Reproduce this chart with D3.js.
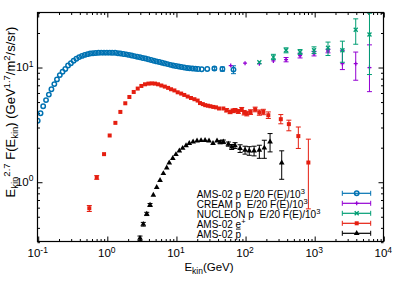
<!DOCTYPE html>
<html><head><meta charset="utf-8">
<script src="https://cdn.jsdelivr.net/npm/d3@7"></script>
<style>body{margin:0;background:#fff}svg{display:block}text{font-family:"Liberation Sans",Arial,Helvetica,sans-serif;fill:#000;white-space:pre}</style>
</head><body><svg id="c" width="407" height="285"></svg>
<script>
// ---- data ----
const amsP_E = [0.1,0.11,0.12,0.132,0.145,0.158,0.174,0.19,0.209,0.229,0.251,0.275,0.302,0.331,0.363,0.398,0.437,0.479,0.525,0.575,0.631,0.692,0.759,0.832,0.912,1.0,1.1,1.2,1.32,1.45,1.58,1.74,1.91,2.09,2.29,2.51,2.75,3.02,3.31,3.63,3.98,4.37,4.79,5.25,5.75,6.31,6.92,7.59,8.32,9.12,10.0,11.0,12.0,13.2,14.5,15.8,17.4,19.1,20.9,23.6,28.4,36,47,68];
const amsP_F = [3.4,3.95,4.55,5.15,5.75,6.4,7.1,7.8,8.5,9.1,9.6,10.3,10.8,11.35,11.8,12.2,12.5,12.75,12.95,13.1,13.2,13.25,13.3,13.35,13.35,13.35,13.35,13.3,13.3,13.2,13.1,13.0,12.9,12.75,12.6,12.45,12.3,12.15,12.0,11.85,11.7,11.5,11.35,11.2,11.05,10.9,10.75,10.6,10.45,10.3,10.2,10.1,10.0,9.9,9.8,9.75,9.7,9.65,9.6,9.55,9.6,9.7,9.6,9.5];
const amsP_Err = [0,0,0,0,0,0,0,0,0,0,0,0,0,0,0,0,0,0,0,0,0,0,0,0,0,0,0,0,0,0,0,0,0,0,0,0,0,0,0,0,0,0,0,0,0,0,0,0,0,0,0,0,0,0,0,0,0,0,0,0.15,0.2,0.3,0.4,0.75];

const cream_E = [62,100,161,257,392,625,995,1585,2560,3990,6310];
const cream_F = [10.3,10.8,10.7,11.3,11.6,12.6,13.1,13.8,10.7,10.7,9.9];
const cream_Lo = [10.1,10.5,10.4,11.0,11.1,12.0,12.5,13.3,9.5,7.67,6.1];
const cream_Hi = [10.5,11.1,11.0,11.6,12.1,13.2,13.7,14.3,14.0,13.5,15.6];

const nucleon_E = [161,257,392,625,995,1585,2560,3990,6310];
const nucleon_F = [11.0,12.2,14.0,13.5,14.0,14.7,14.0,21.1,19.2];
const nucleon_Lo = [10.7,11.6,13.3,12.9,13.1,12.6,11.0,15.8,8.6];
const nucleon_Hi = [11.3,12.9,14.7,14.2,15.0,16.5,16.8,26.3,29.5];

const pos_E = [0.558,0.715,0.912,1.10,1.33,1.57,1.85,2.12,2.45,2.80,3.16,3.57,4.0,4.46,4.98,5.5,6.15,6.9,7.7,8.5,9.5,10.6,11.9,13.2,14.8,16.5,18.5,20.6,22.3,24.5,26.5,29,31.5,34.7,38,42,48.5,54,60.7,67,71.6,80,89.5,97,106,120,140,161,184,217,329,430,590,824];
const pos_F = [0.587,1.09,1.74,2.53,3.26,4.06,4.83,5.48,6.06,6.49,6.84,7.07,7.17,7.2,7.17,7.07,6.9,6.75,6.58,6.4,6.25,6.02,5.87,5.71,5.53,5.37,5.24,5.1,4.85,4.75,4.65,4.6,4.55,4.49,4.45,4.35,4.35,4.2,4.06,4.15,4.2,4.1,4.27,4.0,3.93,4.05,4.27,4.01,4.06,3.80,3.51,3.18,2.50,1.47];
const pos_Lo = [0.55,1.05,1.7,2.48,3.2,4.0,4.77,5.42,6.0,6.43,6.78,7.0,7.1,7.13,7.1,7.0,6.83,6.68,6.5,6.32,6.17,5.93,5.78,5.62,5.44,5.28,5.14,5.0,4.75,4.65,4.55,4.5,4.44,4.38,4.33,4.22,4.22,4.06,3.92,4.0,4.05,3.94,4.1,3.82,3.75,3.86,4.07,3.8,3.84,3.56,3.2,2.78,1.95,0.58];
const pos_Hi = [0.62,1.13,1.78,2.58,3.32,4.12,4.89,5.54,6.12,6.55,6.9,7.14,7.24,7.27,7.24,7.14,6.97,6.82,6.66,6.48,6.33,6.11,5.96,5.8,5.62,5.46,5.34,5.2,4.95,4.85,4.75,4.7,4.66,4.6,4.57,4.48,4.48,4.34,4.2,4.3,4.35,4.26,4.44,4.18,4.11,4.24,4.47,4.22,4.28,4.06,3.85,3.44,3.0,2.35];

const pbar_E = [3.02,3.37,3.78,4.22,4.71,5.27,5.89,6.58,7.36,8.0,9.0,10.0,11.2,12.5,14.0,15.6,17.7,20.2,23.1,26.4,30.1,34.4,39.3,43.7,48.5,57.3,64.2,71.6,84.7,100,115,135,161,190,230,339];
const pbar_F = [0.322,0.426,0.524,0.627,0.766,0.894,1.03,1.18,1.32,1.46,1.6,1.73,1.86,1.96,2.07,2.16,2.23,2.27,2.29,2.30,2.27,2.16,2.27,2.21,2.23,2.13,2.01,2.07,1.95,1.89,1.86,1.86,1.89,1.97,2.23,1.46];
const pbar_Lo = [0.308,0.41,0.507,0.608,0.745,0.87,1.0,1.15,1.29,1.43,1.56,1.69,1.82,1.92,2.03,2.12,2.19,2.23,2.25,2.26,2.22,2.11,2.21,2.14,2.15,2.04,1.91,1.95,1.8,1.74,1.7,1.68,1.6,1.6,1.82,1.05];
const pbar_Hi = [0.336,0.442,0.541,0.646,0.787,0.918,1.06,1.21,1.35,1.49,1.64,1.77,1.9,2.0,2.11,2.2,2.27,2.31,2.33,2.34,2.32,2.21,2.33,2.28,2.31,2.22,2.11,2.19,2.1,2.04,2.02,2.04,2.08,2.3,2.63,1.86];

const xMajor = [0.1,1,10,100,1000,10000];
const xExp = ["-1","0","1","2","3","4"];
const yMajor = [1,10];
const yExp = ["0","1"];

const legendLabels = ["AMS-02 p E/20 F(E)/10|3","CREAM p  E/20 F(E)/10|3","NUCLEON p  E/20 F(E)/10|3","AMS-02 e|+","AMS-02 p"];

// ---- colours ----
const cBlue="#0072b2", cPurple="#9400d3", cGreen="#009e73", cRed="#e51e10", cBlack="#000";

const svg = d3.select("#c");
const L=37.5,R=383.5,T=12.5,B=241.5;
const x = d3.scaleLog().domain([0.1,1e4]).range([37.7,383.3]);
const y = d3.scaleLog().domain([0.3,30]).range([241.7,12.3]);

const xMinor=[]; for(let d=-1; d<4; d++) for(let m=2;m<=9;m++) xMinor.push(m*Math.pow(10,d));
const yMinor=[0.3,0.4,0.5,0.6,0.7,0.8,0.9,2,3,4,5,6,7,8,9,20,30];

function axisGroup(gen, tr, vals, size){
  const g = svg.append("g").attr("transform",tr).call(gen.tickValues(vals).tickSize(size).tickFormat(""));
  g.select(".domain").remove();
  g.selectAll("line").attr("stroke","#000").attr("stroke-width",1);
  return g;
}
axisGroup(d3.axisBottom(x),`translate(0.5,${B})`,xMinor,-2.5);
axisGroup(d3.axisBottom(x),`translate(0.5,${B})`,xMajor,-5);
axisGroup(d3.axisTop(x),`translate(0.5,${T})`,xMinor,-2.5);
axisGroup(d3.axisTop(x),`translate(0.5,${T})`,xMajor,-5);
axisGroup(d3.axisLeft(y),`translate(${L},0.5)`,yMinor,-2.5);
axisGroup(d3.axisLeft(y),`translate(${L},0.5)`,yMajor,-5);
axisGroup(d3.axisRight(y),`translate(${R},0.5)`,yMinor,-2.5);
axisGroup(d3.axisRight(y),`translate(${R},0.5)`,yMajor,-5);

const fs=11.5, sfs=8.5;
xMajor.forEach((v,i)=>{
  const t=svg.append("text").attr("x",x(v)).attr("y",257).attr("text-anchor","middle").attr("font-size",fs);
  t.append("tspan").text("10");
  t.append("tspan").attr("dy",-4.5).attr("font-size",sfs).text(xExp[i]);
});
yMajor.forEach((v,i)=>{
  const t=svg.append("text").attr("x",33.5).attr("y",y(v)+4).attr("text-anchor","end").attr("font-size",fs);
  t.append("tspan").text("10");
  t.append("tspan").attr("dy",-4.5).attr("font-size",sfs).text(yExp[i]);
});

function rich(t, parts, subSize, up, down){
  let cur=0;
  parts.forEach(([s,m])=>{
    const target = m==="sub"?down:(m==="sup"?-up:0);
    const sp=t.append("tspan").attr("dy",target-cur).text(s);
    if(m!=="n") sp.attr("font-size",subSize);
    cur=target;
  });
}
const xl=svg.append("text").attr("x",209).attr("y",270.5).attr("text-anchor","middle").attr("font-size",fs);
rich(xl,[["E","n"],["kin","sub"],["(GeV)","n"]],sfs,4.5,3);
const yl=svg.append("text").attr("transform","translate(15,112) rotate(-90)").attr("text-anchor","middle").attr("font-size",13);
rich(yl,[["E","n"],["kin","sub"],["2.7","sup"],[" F(E","n"],["kin","sub"],[") (GeV","n"],["1.7","sup"],["/m","n"],["2","sup"],["/s/sr)","n"]],9.5,5,3.3);

svg.append("clipPath").attr("id","clip").append("rect").attr("x",L).attr("y",T).attr("width",R-L).attr("height",B-T);
const plot=svg.append("g").attr("clip-path","url(#clip)");

function errbars(g,E,lo,hi,col){
  E.forEach((e,i)=>{
    if(!(hi[i]>lo[i])) return;
    const xx=x(e), y1=y(lo[i]), y2=y(hi[i]);
    if(Math.abs(y1-y2)<3) return;
    g.append("line").attr("x1",xx).attr("x2",xx).attr("y1",y1).attr("y2",y2).attr("stroke",col).attr("stroke-width",1);
    [y1,y2].forEach(yy=>g.append("line").attr("x1",xx-2.5).attr("x2",xx+2.5).attr("y1",yy).attr("y2",yy).attr("stroke",col).attr("stroke-width",1));
  });
}
function marker(g,type,cx,cy,col){
  if(type==="circle") g.append("circle").attr("cx",cx).attr("cy",cy).attr("r",2.2).attr("fill","none").attr("stroke",col).attr("stroke-width",1.5);
  else if(type==="square") g.append("rect").attr("x",cx-2).attr("y",cy-2).attr("width",4).attr("height",4).attr("fill",col);
  else if(type==="triangle") g.append("path").attr("transform",`translate(${cx},${cy})`).attr("d",d3.symbol(d3.symbolTriangle,14)()).attr("fill",col);
  else if(type==="plus"){ g.append("path").attr("d",`M${cx-2},${cy}H${cx+2}M${cx},${cy-2}V${cy+2}`).attr("stroke",col).attr("stroke-width",1.3); }
  else if(type==="cross"){ g.append("path").attr("d",`M${cx-2},${cy-2}L${cx+2},${cy+2}M${cx-2},${cy+2}L${cx+2},${cy-2}`).attr("stroke",col).attr("stroke-width",1.3); }
}
function series(E,F,lo,hi,type,col){
  const g=plot.append("g");
  errbars(g,E,lo,hi,col);
  E.forEach((e,i)=>marker(g,type,x(e),y(F[i]),col));
}
series(amsP_E,amsP_F,amsP_F.map((f,i)=>f-amsP_Err[i]),amsP_F.map((f,i)=>f+amsP_Err[i]),"circle",cBlue);
series(pos_E,pos_F,pos_Lo,pos_Hi,"square",cRed);
series(pbar_E,pbar_F,pbar_Lo,pbar_Hi,"triangle",cBlack);
series(cream_E,cream_F,cream_Lo,cream_Hi,"plus",cPurple);
series(nucleon_E,nucleon_F,nucleon_Lo,nucleon_Hi,"cross",cGreen);

const legTypes=["circle","plus","cross","square","triangle"];
const legCols=[cBlue,cPurple,cGreen,cRed,cBlack];
legendLabels.forEach((lab,i)=>{
  const ry=193.3+i*10;
  const t=svg.append("text").attr("x",196.7).attr("y",ry+4.5).attr("font-size",10);
  const [a,b]=lab.split("|");
  t.append("tspan").text(a);
  if(b) t.append("tspan").attr("dy",-4).attr("font-size",7.5).text(b);
  if(i===4){
    const w=t.node().getComputedTextLength();
    svg.append("line").attr("x1",196.7+w-5.2).attr("x2",196.7+w-0.6).attr("y1",ry-4.2).attr("y2",ry-4.2).attr("stroke","#000").attr("stroke-width",0.9);
  }
  const col=legCols[i];
  const g=svg.append("g");
  g.append("line").attr("x1",342.3).attr("x2",370.7).attr("y1",ry).attr("y2",ry).attr("stroke",col).attr("stroke-width",1.2);
  [342.3,370.7].forEach(xx=>g.append("line").attr("x1",xx).attr("x2",xx).attr("y1",ry-2.5).attr("y2",ry+2.5).attr("stroke",col).attr("stroke-width",1));
  marker(g,legTypes[i],356.7,ry,col);
});

svg.append("rect").attr("x",L).attr("y",T).attr("width",R-L).attr("height",B-T).attr("fill","none").attr("stroke","#000").attr("stroke-width",1.2);
</script></body></html>
